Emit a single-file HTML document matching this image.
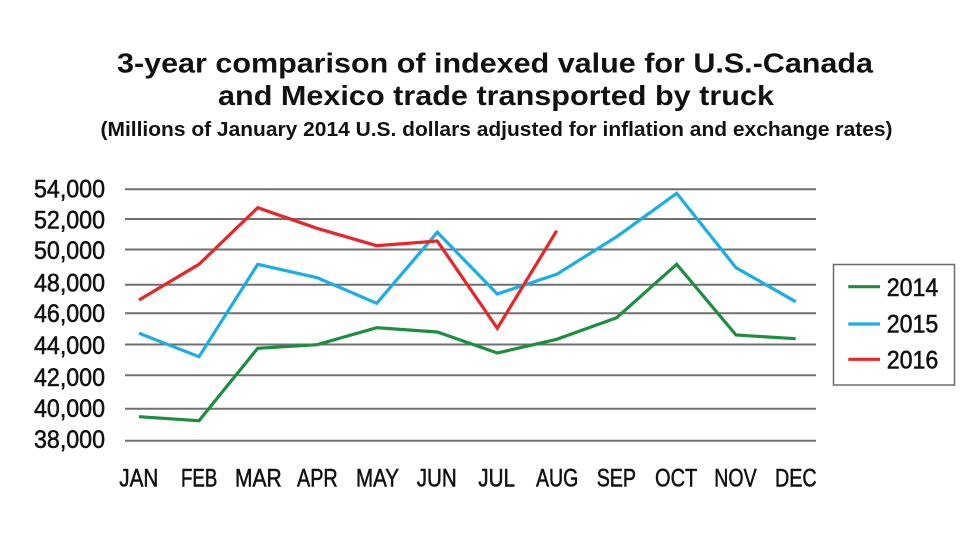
<!DOCTYPE html>
<html>
<head>
<meta charset="utf-8">
<style>
html,body{margin:0;padding:0;background:#fff;}
svg{display:block;}
text{font-family:"Liberation Sans",Arial,sans-serif;fill:#111;}
.lab text{stroke:#111;stroke-width:0.55px;}
</style>
</head>
<body>
<svg width="980" height="552" viewBox="0 0 980 552" xmlns="http://www.w3.org/2000/svg">
<rect width="980" height="552" fill="#fff"/>
<!-- Title -->
<text x="117" y="72.5" font-size="28" font-weight="bold" textLength="756" lengthAdjust="spacingAndGlyphs">3-year comparison of indexed value for U.S.-Canada</text>
<text x="218" y="105" font-size="28" font-weight="bold" textLength="556" lengthAdjust="spacingAndGlyphs">and Mexico trade transported by truck</text>
<text x="100.5" y="136" font-size="20" font-weight="bold" textLength="792" lengthAdjust="spacingAndGlyphs">(Millions of January 2014 U.S. dollars adjusted for inflation and exchange rates)</text>

<!-- Gridlines -->
<g stroke="#707070" stroke-width="2">
<line x1="125" y1="189.3" x2="816" y2="189.3"/>
<line x1="125" y1="219" x2="816" y2="219"/>
<line x1="125" y1="249.5" x2="816" y2="249.5"/>
<line x1="125" y1="284.8" x2="816" y2="284.8"/>
<line x1="125" y1="313.2" x2="816" y2="313.2"/>
<line x1="125" y1="344.5" x2="816" y2="344.5"/>
<line x1="125" y1="375.2" x2="816" y2="375.2"/>
<line x1="125" y1="408.8" x2="816" y2="408.8"/>
<line x1="125" y1="440.7" x2="816" y2="440.7"/>
</g>

<!-- Y labels -->
<g font-size="25" class="lab">
<text x="34" y="197.5" textLength="71" lengthAdjust="spacingAndGlyphs">54,000</text>
<text x="34" y="228.5" textLength="71" lengthAdjust="spacingAndGlyphs">52,000</text>
<text x="34" y="259" textLength="71" lengthAdjust="spacingAndGlyphs">50,000</text>
<text x="34" y="291.5" textLength="71" lengthAdjust="spacingAndGlyphs">48,000</text>
<text x="34" y="322" textLength="71" lengthAdjust="spacingAndGlyphs">46,000</text>
<text x="34" y="354" textLength="71" lengthAdjust="spacingAndGlyphs">44,000</text>
<text x="34" y="386" textLength="71" lengthAdjust="spacingAndGlyphs">42,000</text>
<text x="34" y="417" textLength="71" lengthAdjust="spacingAndGlyphs">40,000</text>
<text x="34" y="448" textLength="71" lengthAdjust="spacingAndGlyphs">38,000</text>
</g>

<!-- X labels -->
<g font-size="25" class="lab">
<text x="119.3" y="486.5" textLength="39" lengthAdjust="spacingAndGlyphs">JAN</text>
<text x="181" y="486.5" textLength="36.3" lengthAdjust="spacingAndGlyphs">FEB</text>
<text x="235" y="486.5" textLength="46.7" lengthAdjust="spacingAndGlyphs">MAR</text>
<text x="297" y="486.5" textLength="40.7" lengthAdjust="spacingAndGlyphs">APR</text>
<text x="356" y="486.5" textLength="43" lengthAdjust="spacingAndGlyphs">MAY</text>
<text x="416.7" y="486.5" textLength="40" lengthAdjust="spacingAndGlyphs">JUN</text>
<text x="478.3" y="486.5" textLength="36.7" lengthAdjust="spacingAndGlyphs">JUL</text>
<text x="536" y="486.5" textLength="42.3" lengthAdjust="spacingAndGlyphs">AUG</text>
<text x="596.7" y="486.5" textLength="39.3" lengthAdjust="spacingAndGlyphs">SEP</text>
<text x="655" y="486.5" textLength="42.3" lengthAdjust="spacingAndGlyphs">OCT</text>
<text x="714.3" y="486.5" textLength="42.3" lengthAdjust="spacingAndGlyphs">NOV</text>
<text x="775" y="486.5" textLength="41.7" lengthAdjust="spacingAndGlyphs">DEC</text>
</g>

<!-- Series -->
<g fill="none" stroke-width="3.2" stroke-linejoin="miter" stroke-linecap="butt">
<polyline stroke="#1b8f3e" points="139,416.7 199,420.7 257.7,348.3 317,344.7 376.7,327.7 437.3,332 497.3,353 556.7,339.3 616.7,317.7 676.7,264.3 736,335 795.7,338.7"/>
<polyline stroke="#19aee8" points="139,333.3 199,356.7 257.7,264.3 317,277.7 376.7,303.3 437.3,232.3 497.3,294 556.7,274.3 616.7,236.7 676.7,193.3 736,267.7 795.7,301.7"/>
<polyline stroke="#ea2428" points="139,300 199,264.3 257.7,207.7 317,228.3 376.7,245.7 437.3,241 497.3,328.3 556.7,230.7"/>
</g>

<!-- Legend -->
<rect x="833.5" y="264.5" width="121" height="120.5" fill="#fff" stroke="#6a6a6a" stroke-width="1.5"/>
<line x1="848.3" y1="286.7" x2="880" y2="286.7" stroke="#1b8f3e" stroke-width="3.2"/>
<line x1="848.3" y1="324" x2="880" y2="324" stroke="#19aee8" stroke-width="3.2"/>
<line x1="848.3" y1="359.3" x2="880" y2="359.3" stroke="#ea2428" stroke-width="3.2"/>
<g font-size="25" class="lab">
<text x="886.7" y="296" textLength="51.6" lengthAdjust="spacingAndGlyphs">2014</text>
<text x="886.7" y="332.7" textLength="51.6" lengthAdjust="spacingAndGlyphs">2015</text>
<text x="886.7" y="368.3" textLength="51.6" lengthAdjust="spacingAndGlyphs">2016</text>
</g>
</svg>
</body>
</html>
